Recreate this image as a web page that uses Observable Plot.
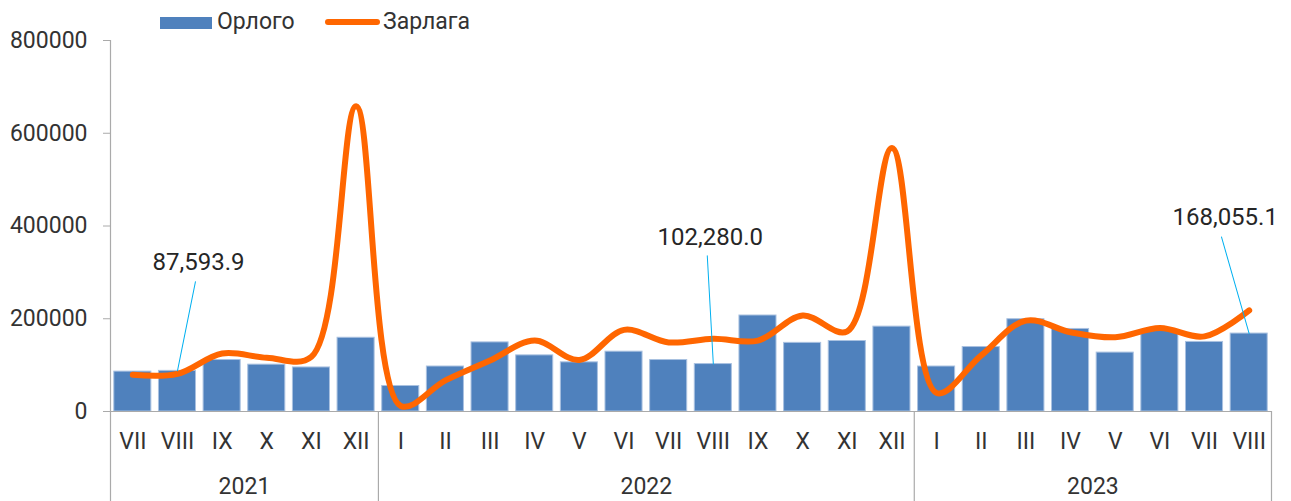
<!DOCTYPE html>
<html><head><meta charset="utf-8">
<script src="https://cdn.jsdelivr.net/npm/d3@7"></script>
<script src="https://cdn.jsdelivr.net/npm/@observablehq/plot@0.6"></script>
<style>
body{margin:0;background:#fff;}
#wrap{position:relative;width:1291px;height:501px;font-family:Roboto,sans-serif;color:#333;}
#legend{position:absolute;left:0;top:0;width:1291px;height:40px;font-size:23px;line-height:23px;}
#legend span{position:absolute;white-space:nowrap;}
</style></head><body>
<div id="wrap"><div id="chart"></div>
<div id="legend">
  <span style="left:160px;top:17px;width:52px;height:12px;background:#4F81BD"></span>
  <span id="lg1" style="left:217px;top:10px"></span>
  <span style="left:325px;top:19px;width:55px;height:6px;border-radius:3px;background:#FF6600"></span>
  <span id="lg2" style="left:383px;top:10px"></span>
</div>
</div>
<script>
// ---- data ----
const seriesNames = ["Орлого", "Зарлага"];
const years = ["2021", "2022", "2023"];
const monthsByYear = [
  ["VII","VIII","IX","X","XI","XII"],
  ["I","II","III","IV","V","VI","VII","VIII","IX","X","XI","XII"],
  ["I","II","III","IV","V","VI","VII","VIII"]
];
// Орлого (bars)
const revenue = [
  86000, 87593.9, 111000, 101000, 95000, 159000,
  55000, 97000, 149000, 121000, 106000, 129000, 111000, 102280.0, 207000, 148000, 152000, 183000,
  97000, 139000, 199000, 178000, 127000, 176000, 150000, 168055.1
];
// Зарлага (line)
const expense = [
  79000, 81000, 125000, 116000, 118000, 658000,
  12000, 67000, 110000, 153000, 111000, 176000, 149000, 157000, 153000, 207000, 173000, 568000,
  40000, 121000, 196000, 171000, 160000, 180000, 162000, 218000
];
const yTicks = [0, 200000, 400000, 600000, 800000];
const callouts = [
  {year: "2021", month: "VIII", label: "87,593.9"},
  {year: "2022", month: "VIII", label: "102,280.0"},
  {year: "2023", month: "VIII", label: "168,055.1"}
];

// ---- build table ----
const rows = [];
years.forEach((y, yi) => monthsByYear[yi].forEach(m => rows.push({key: y + "-" + m, year: y, month: m})));
rows.forEach((r, i) => { r.revenue = revenue[i]; r.expense = expense[i]; });
const keys = rows.map(r => r.key);
const yearFirst = years.map((y, yi) => y + "-" + monthsByYear[yi][0]);
const yearMid = years.map((y, yi) => ({year: y, key: y + "-" + monthsByYear[yi][Math.floor(monthsByYear[yi].length / 2)]}));

document.getElementById("lg1").textContent = seriesNames[0];
document.getElementById("lg2").textContent = seriesNames[1];

// ---- layout / style ----
const W = 1291, H = 501, mL = 110, mR = 20, mT = 40, mB = 90;
const step = (W - mL - mR) / keys.length;
const axisColor = "#aaa";
const calloutStyle = [
  {len: 91, rot: 11.4, dx: 21, dy: -109},
  {len: 108.5, rot: -3.2, dx: -3, dy: -127},
  {len: 100.5, rot: -16, dx: -24, dy: -116}
];
const lineShape = {draw(ctx, l) { ctx.moveTo(0, 0); ctx.lineTo(0, -l); }};

const calloutMarks = callouts.flatMap((c, i) => {
  const row = rows.filter(r => r.year === c.year && r.month === c.month);
  const s = calloutStyle[i];
  return [
    Plot.vector(row, {x: "key", y: "revenue", length: s.len, rotate: s.rot, anchor: "start",
      stroke: "#00B0F0", strokeWidth: 1, shape: lineShape}),
    Plot.text(row, {x: "key", y: "revenue", text: () => c.label, dx: s.dx, dy: s.dy,
      fontSize: 24, lineAnchor: "middle", fill: "#262626"})
  ];
});

const chart = Plot.plot({
  width: W, height: H,
  marginLeft: mL, marginRight: mR, marginTop: mT, marginBottom: mB,
  style: {fontFamily: "Roboto, sans-serif", fontSize: "23px", color: "#333", background: "white", overflow: "visible"},
  x: {domain: keys, paddingInner: 0.17, paddingOuter: 0.085, round: false, axis: null},
  y: {domain: [0, 800000], axis: null},
  marks: [
    Plot.barY(rows, {x: "key", y: "revenue", fill: "#4F81BD", stroke: "#A9C1E0", strokeWidth: 1}),
    Plot.ruleY([0], {stroke: axisColor, strokeWidth: 1.2}),
    Plot.ruleX([keys[0]], {dx: -step / 2, stroke: axisColor, strokeWidth: 1.2, insetBottom: -mB}),
    Plot.ruleX(yearFirst.slice(1), {dx: -step / 2, stroke: axisColor, strokeWidth: 1.2, insetTop: H - mT - mB, insetBottom: -mB}),
    Plot.ruleX([keys[keys.length - 1]], {dx: step / 2, stroke: axisColor, strokeWidth: 1.2, insetTop: H - mT - mB, insetBottom: -mB}),
    Plot.axisY({ticks: yTicks, tickFormat: d => String(d), tickSize: 7, tickPadding: 16,
      stroke: axisColor, color: "#333", label: null, fontSize: 23}),
    Plot.text(rows, {x: "key", text: "month", frameAnchor: "bottom", dy: 30, lineAnchor: "middle", fill: "#333"}),
    Plot.text(yearMid, {x: "key", text: "year", frameAnchor: "bottom", dy: 75, dx: -step / 2, lineAnchor: "middle", fill: "#333"}),
    Plot.line(rows, {x: "key", y: "expense", stroke: "#FF6600", strokeWidth: 6, curve: "catmull-rom",
      strokeLinecap: "round", strokeLinejoin: "round"}),
    ...calloutMarks
  ]
});
document.getElementById("chart").appendChild(chart);
</script>
</body></html>
